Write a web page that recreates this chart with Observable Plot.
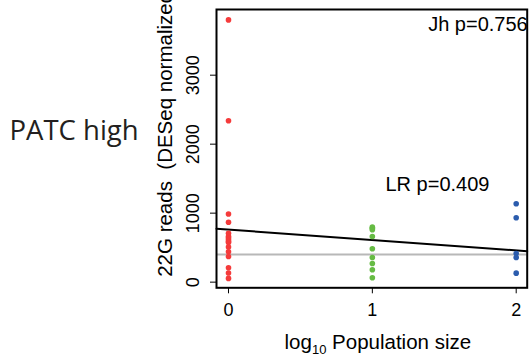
<!DOCTYPE html>
<html>
<head>
<meta charset="utf-8">
<script src="https://cdn.jsdelivr.net/npm/d3@7"></script>
<script src="https://cdn.jsdelivr.net/npm/@observablehq/plot@0.6"></script>
<style>
  html, body { margin: 0; padding: 0; background: white; }
</style>
</head>
<body>
<div id="chart"></div>
<script>
// ---- data ----
const xTicks = [0, 1, 2];
const yTicks = [0, 1000, 2000, 3000];
const groupX = [0, 1, 2];
const groupColors = ["#f53b3b", "#66bb44", "#2b5cad"];
const redValues = [3801, 2339, 988, 868, 709, 660, 640, 614, 590, 575, 510, 441, 372, 209, 133, 54];
const greenValues = [797, 780, 759, 662, 484, 358, 271, 180, 64];
const blueValues = [1136, 933, 416, 358, 130];
const fitIntercept = 761;
const fitSlope = -150;
const referenceLevel = 401;
const jhLabel = "Jh p=0.756";
const lrLabel = "LR p=0.409";
const panelLabel = "PATC high";
const yTitle = "22G reads  (DESeq normalized)";
const xTitle = "log10 Population size";

const xDomain = [-0.0834, 2.0765];
const yDomain = [-82, 3952];

const points = [
  ...redValues.map(v => ({x: groupX[0], y: v, g: "0"})),
  ...greenValues.map(v => ({x: groupX[1], y: v, g: "1"})),
  ...blueValues.map(v => ({x: groupX[2], y: v, g: "2"}))
];
const fitLine = xDomain.map(x => ({x, y: fitIntercept + fitSlope * x}));

const chart = Plot.plot({
  width: 530,
  height: 358,
  marginLeft: 216,
  marginTop: 9,
  marginRight: 3.3,
  marginBottom: 70.7,
  style: {fontFamily: "'Liberation Sans', Arial, sans-serif", fontSize: "17px", color: "black", background: "white"},
  x: {domain: xDomain},
  y: {domain: yDomain},
  color: {domain: ["0", "1", "2"], range: groupColors},
  marks: [
    Plot.ruleY([referenceLevel], {stroke: "#b8b8b8", strokeWidth: 2}),
    Plot.line(fitLine, {x: "x", y: "y", stroke: "black", strokeWidth: 2}),
    Plot.dot(points, {x: "x", y: "y", fill: "g", r: 2.8, stroke: null}),
    Plot.frame({stroke: "black", strokeWidth: 2}),
    Plot.axisX({ticks: xTicks, tickSize: 6, tickPadding: 9, fontSize: 18, label: null, tickFormat: d => String(d)}),
    Plot.axisY({ticks: yTicks, tickSize: 6, tickPadding: 12, tickRotate: -90, fontSize: 18, label: null, tickFormat: d => String(d)}),
    Plot.text([jhLabel], {frameAnchor: "top-right", textAnchor: "end", lineAnchor: "bottom", dx: 0.5, dy: 21.7, fontSize: 20}),
    Plot.text([lrLabel], {frameAnchor: "top-left", textAnchor: "start", lineAnchor: "bottom", dx: 169, dy: 181, fontSize: 20}),
    Plot.text([panelLabel], {frameAnchor: "top-left", textAnchor: "start", lineAnchor: "bottom", dx: -207, dy: 130.3, fontSize: 27.5, fontFamily: "'Open Sans', 'Noto Sans', sans-serif", fill: "#231f20"}),
    Plot.text([yTitle], {frameAnchor: "bottom-left", rotate: -90, textAnchor: "start", lineAnchor: "bottom", dx: -45, dy: -11, fontSize: 20.5}),
    Plot.text([xTitle], {frameAnchor: "bottom", textAnchor: "middle", lineAnchor: "bottom", dx: 6, dy: 61, fontSize: 20.5})
  ]
});

// subscript for "log10"
chart.querySelectorAll("text").forEach(t => {
  if (t.textContent === xTitle) {
    while (t.firstChild) t.removeChild(t.firstChild);
    const ns = "http://www.w3.org/2000/svg";
    t.appendChild(document.createTextNode("log"));
    const sub = document.createElementNS(ns, "tspan");
    sub.setAttribute("font-size", "13");
    sub.setAttribute("dy", "5");
    sub.textContent = "10";
    t.appendChild(sub);
    const rest = document.createElementNS(ns, "tspan");
    rest.setAttribute("dy", "-5");
    rest.textContent = " Population size";
    t.appendChild(rest);
  }
});

document.getElementById("chart").appendChild(chart);
</script>
</body>
</html>
